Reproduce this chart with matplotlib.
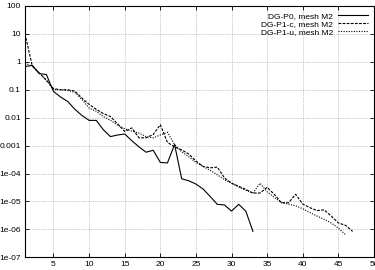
import numpy as np
import matplotlib
matplotlib.use("Agg")
import matplotlib.pyplot as plt
from matplotlib.ticker import FixedLocator, LogLocator, NullFormatter

# DG-P0, mesh M2
x_p0 = list(range(1, 34))
y_p0 = [0.68, 0.74, 0.38, 0.35, 0.087, 0.055, 0.038, 0.02, 0.012, 0.008,
        0.008, 0.0037, 0.0021, 0.0024, 0.0026, 0.0015, 0.0009, 0.00058, 0.00068, 0.00025,
        0.00024, 0.0011, 6.5e-5, 5.5e-5, 4.2e-5, 2.8e-5, 1.5e-5, 7.9e-6, 7.5e-6, 4.5e-6,
        7.9e-6, 4.5e-6, 8.5e-7]

# DG-P1-c, mesh M2
x_p1c = list(range(1, 48))
y_p1c = [10, 0.75, 0.4, 0.22, 0.11, 0.1, 0.1, 0.09, 0.05, 0.03,
         0.02, 0.014, 0.011, 0.006, 0.0032, 0.0043, 0.0019, 0.0019, 0.0025, 0.0056,
         0.0013, 0.0009, 0.0007, 0.0005, 0.00028, 0.00018, 0.00016, 0.00017, 7e-5, 4.5e-5,
         3.5e-5, 2.7e-5, 2e-5, 2e-5, 3.2e-5, 1.8e-5, 9e-6, 9e-6, 1.8e-5, 8e-6,
         6e-6, 4.7e-6, 5e-6, 3e-6, 1.7e-6, 1.4e-6, 8.5e-7]

# DG-P1-u, mesh M2
x_p1u = list(range(1, 47))
y_p1u = [0.9, 0.7, 0.4, 0.22, 0.1, 0.1, 0.095, 0.08, 0.045, 0.022,
         0.017, 0.011, 0.008, 0.0055, 0.004, 0.0033, 0.0028, 0.0021, 0.0019, 0.0024,
         0.003, 0.0011, 0.0006, 0.0004, 0.00025, 0.00018, 0.00013, 9e-5, 6e-5, 4.5e-5,
         3.3e-5, 2.5e-5, 2e-5, 4.5e-5, 2.2e-5, 1.4e-5, 9e-6, 8e-6, 7e-6, 5.5e-6,
         4e-6, 3e-6, 2.3e-6, 1.7e-6, 1.1e-6, 6.5e-7]

labels = ["DG-P0, mesh M2", "DG-P1-c, mesh M2", "DG-P1-u, mesh M2"]
xticks = [5, 10, 15, 20, 25, 30, 35, 40, 45, 50]
yticks = [1e2, 1e1, 1, 0.1, 0.01, 0.001, 1e-4, 1e-5, 1e-6, 1e-7]
ytick_labels = ["100", "10", "1", "0.1", "0.01", "0.001", "1e-04", "1e-05", "1e-06", "1e-07"]

plt.rcParams['font.family'] = ['Liberation Sans', 'DejaVu Sans']

fig = plt.figure(figsize=(3.75, 2.7), dpi=100)
ax = fig.add_axes([25 / 375, 1 - 257.3 / 270, 349 / 375, 251.3 / 270])

ax.plot(x_p0, y_p0, color='black', lw=0.8, ls='-', label=labels[0])
ax.plot(x_p1c, y_p1c, color='black', lw=0.8, ls=(0, (2.5, 1.2)), label=labels[1])
ax.plot(x_p1u, y_p1u, color='black', lw=0.8, ls=(0, (1, 1.3)), label=labels[2])

ax.set_yscale('log')
ax.set_xlim(1, 50)
ax.set_ylim(1e-7, 100)
ax.xaxis.set_major_locator(FixedLocator(xticks))
ax.set_xticklabels([str(v) for v in xticks])
ax.yaxis.set_major_locator(FixedLocator(yticks))
ax.set_yticklabels(ytick_labels)
ax.yaxis.set_minor_locator(LogLocator(base=10, subs=[2, 5]))
ax.yaxis.set_minor_formatter(NullFormatter())

ax.tick_params(which='both', direction='in', top=True, right=True, labelsize=6, pad=3)
ax.tick_params(which='major', length=3, width=0.6)
ax.tick_params(which='minor', length=1.5, width=0.5)
for s in ax.spines.values():
    s.set_linewidth(0.8)

ax.grid(True, which='major', color='#999999', ls=(0, (1, 1.5)), lw=0.5)

leg = ax.legend(loc='upper right', frameon=False, markerfirst=False, fontsize=6,
                handlelength=3.6, handletextpad=0.6, labelspacing=0.05,
                borderaxespad=0.3)

fig.savefig("out.png", dpi=100)
